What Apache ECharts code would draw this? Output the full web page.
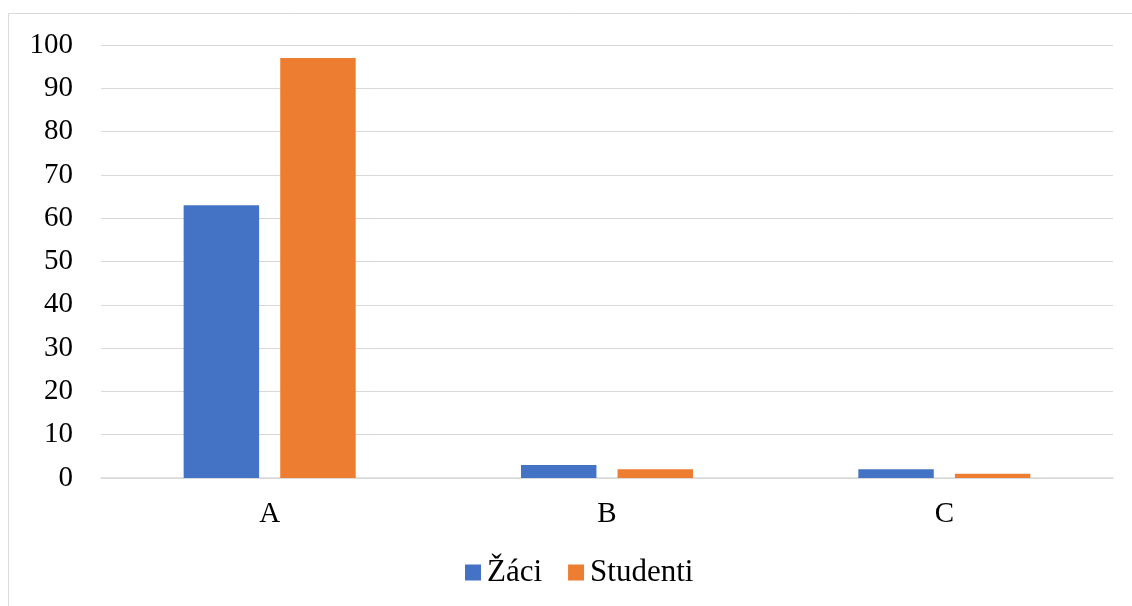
<!DOCTYPE html>
<html><head><meta charset="utf-8">
<script src="https://cdn.jsdelivr.net/npm/echarts@6/dist/echarts.min.js"></script>
<style>html,body{margin:0;padding:0;background:#fff}#c{width:1132px;height:606px}</style>
</head><body><div id="c"></div>
<script>
const categories = ['A', 'B', 'C'];
const zaci = [63, 3, 2];
const studenti = [97, 2, 1];
const seriesNames = ['Žáci', 'Studenti'];

const font = 'Liberation Serif, Times New Roman, serif';
const chart = echarts.init(document.getElementById('c'));
chart.setOption({
  animation: false,
  graphic: [{type: 'rect', shape: {x: 8.5, y: 13.5, width: 1130, height: 600}, style: {fill: 'none', stroke: '#d9d9d9', lineWidth: 1}}],
  grid: {left: 101, right: 19, top: 45, bottom: 128},
  legend: {
    top: 552, left: 460, itemWidth: 16, itemHeight: 16, itemGap: 26, icon: 'rect',
    textStyle: {fontFamily: font, fontSize: 31, color: '#000', lineHeight: 31, padding: [0, 0, 0, 1]},
    data: seriesNames
  },
  xAxis: {
    type: 'category', data: categories,
    axisLine: {lineStyle: {color: '#d9d9d9', width: 1.5}},
    axisTick: {show: false},
    axisLabel: {fontFamily: font, fontSize: 29, color: '#000', margin: 22}
  },
  yAxis: {
    type: 'value', min: 0, max: 100, interval: 10,
    axisLine: {show: false}, axisTick: {show: false},
    splitLine: {lineStyle: {color: '#d9d9d9', width: 1}},
    axisLabel: {fontFamily: font, fontSize: 29, color: '#000', margin: 28}
  },
  series: [
    {name: seriesNames[0], type: 'bar', data: zaci, itemStyle: {color: '#4472C4'}, barGap: '28%', barCategoryGap: '49%'},
    {name: seriesNames[1], type: 'bar', data: studenti, itemStyle: {color: '#ED7D31'}}
  ]
});
</script></body></html>
